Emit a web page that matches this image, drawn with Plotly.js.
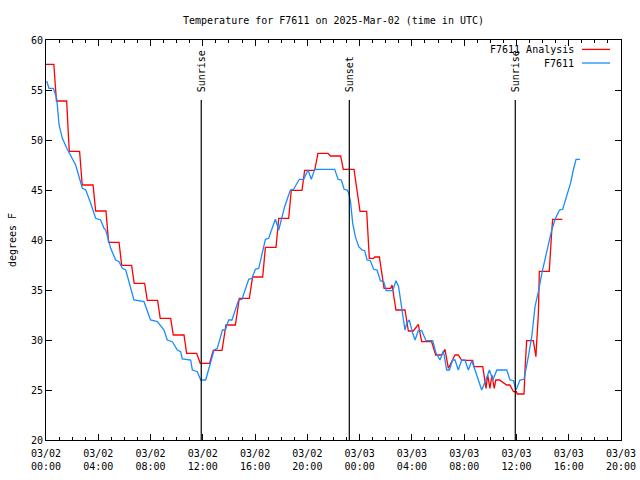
<!DOCTYPE html>
<html>
<head>
<meta charset="utf-8">
<script src="https://cdn.plot.ly/plotly-3.0.1.min.js"></script>
<style>html,body{margin:0;padding:0;background:#fff;}#chart{width:640px;height:480px;}</style>
</head>
<body>
<div id="chart"></div>
<script>
// Hours since 2025-03-02 00:00 UTC
const analysisHours = [0.0,0.6,0.8,1.58,1.78,2.57,2.77,3.6,3.8,4.59,4.79,5.59,5.79,6.55,6.75,7.55,7.75,8.54,8.74,9.54,9.74,10.56,10.76,11.53,11.8,12.52,12.8,13.47,13.77,14.49,14.79,15.56,15.81,16.58,16.79,17.6,17.81,18.57,18.77,19.59,19.79,20.56,20.81,21.58,21.76,22.55,22.75,23.57,24.03,24.54,24.74,25.07,25.15,25.51,25.87,26.38,26.48,26.78,27.47,27.73,28.11,28.49,28.75,29.51,29.82,30.28,30.53,30.79,31.04,31.3,31.55,31.81,32.65,32.75,33.42,33.67,33.8,33.97,34.12,34.3,34.42,34.7,35.25,35.5,35.77,36.0,36.06,36.58,36.66,36.78,37.29,37.49,37.55,37.68,37.75,38.51,38.69,38.77,39.51];
const analysisTemps = [57.57,57.57,53.9,53.9,48.87,48.87,45.5,45.5,42.9,42.9,39.77,39.77,37.47,37.47,35.67,35.67,33.97,33.97,32.17,32.17,30.5,30.5,28.67,28.67,27.67,27.67,28.97,28.97,31.5,31.5,34.17,34.17,36.3,36.3,39.27,39.27,42.17,42.17,44.97,44.97,46.97,46.97,48.67,48.67,48.4,48.4,47.07,47.07,42.87,42.87,38.17,38.17,38.3,38.3,35.17,35.17,35.5,33.0,33.0,30.9,30.9,31.57,29.83,29.83,28.5,28.5,29.07,27.17,27.83,28.5,28.5,27.97,27.97,27.33,27.33,25.17,26.5,25.17,26.5,25.17,26.0,26.0,25.5,25.5,24.83,24.83,24.6,24.6,27.17,29.93,29.93,28.33,29.83,32.67,36.87,36.87,40.67,42.07,42.07];

const obsHours = [0.05,0.23,0.56,0.82,1.0,1.25,1.63,2.27,2.78,3.04,3.42,3.8,4.18,4.44,4.57,4.95,5.33,5.59,5.84,6.1,6.73,7.5,8.0,8.52,9.03,9.28,9.67,10.05,10.3,10.43,11.07,11.2,11.58,11.84,12.22,12.6,12.86,13.11,13.5,13.72,13.98,14.23,14.74,15.0,15.51,15.76,16.02,16.28,16.79,17.04,17.55,17.81,18.26,18.7,18.95,19.38,19.72,20.05,20.3,20.56,22.09,22.35,22.6,22.81,23.04,23.17,23.3,23.47,23.67,23.93,24.18,24.39,24.57,24.82,25.07,25.33,25.59,25.84,26.04,26.53,26.78,26.98,27.22,27.47,27.6,27.8,28.06,28.24,28.49,28.75,29.08,29.59,29.85,30.15,30.41,30.66,30.87,31.12,31.3,31.55,31.81,32.06,32.32,32.58,32.83,33.34,33.68,33.93,34.19,34.5,35.26,35.51,35.77,35.97,36.27,36.58,36.91,37.17,37.42,37.68,37.94,38.19,38.44,38.7,38.96,39.29,39.54,39.85,40.15,40.35,40.56,40.87];
const obsTemps = [55.9,55.17,55.17,54.17,51.5,50.17,49.07,47.5,45.17,45.0,43.67,42.17,42.0,41.17,41.0,39.17,38.0,37.83,37.17,37.0,34.0,33.83,32.0,31.83,31.0,30.0,29.83,29.0,28.83,28.1,28.0,27.0,26.83,26.0,26.0,27.83,29.0,29.17,31.0,31.0,32.0,32.0,34.0,34.07,36.07,36.17,37.07,37.17,40.07,40.17,42.07,41.0,43.33,45.0,45.07,46.07,46.07,47.0,46.07,47.07,47.07,46.07,46.0,45.07,45.0,44.67,43.83,41.67,40.33,39.33,39.0,38.93,38.0,37.93,37.07,37.0,35.93,35.83,34.93,34.93,35.93,35.33,33.0,31.0,31.67,32.0,30.67,30.0,30.93,30.93,29.93,29.93,28.67,28.0,28.93,27.0,27.0,28.0,28.0,27.0,28.0,28.0,27.0,27.93,27.0,25.0,26.07,27.0,26.0,27.0,27.0,26.0,25.93,25.0,26.0,26.07,28.33,30.33,33.33,34.83,36.67,38.0,39.33,41.0,42.07,43.0,43.07,44.33,45.73,47.0,48.07,48.07];

const sunHours = [11.88, 23.21, 35.91];
const sunLabels = ["Sunrise", "Sunset", "Sunrise"];
const seriesNames = ["F7611 Analysis", "F7611"];
const seriesColors = ["#ff0000", "#1a8cff"];

const startMs = Date.UTC(2025, 2, 2, 0, 0, 0);
function pad(n){ return String(n).padStart(2, "0"); }
function toDate(h){
  const d = new Date(startMs + Math.round(h * 3600000));
  return d.getUTCFullYear() + "-" + pad(d.getUTCMonth()+1) + "-" + pad(d.getUTCDate()) + " " +
         pad(d.getUTCHours()) + ":" + pad(d.getUTCMinutes()) + ":" + pad(d.getUTCSeconds());
}

const FONT = "DejaVu Sans Mono, Liberation Mono, monospace";

const traces = [
  {x: analysisHours.map(toDate), y: analysisTemps, mode: "lines", name: seriesNames[0],
   line: {color: seriesColors[0], width: 1.3}, showlegend: false},
  {x: obsHours.map(toDate), y: obsTemps, mode: "lines", name: seriesNames[1],
   line: {color: seriesColors[1], width: 1.3}, showlegend: false}
];

const shapes = sunHours.map(h => ({
  type: "line", xref: "x", yref: "y", x0: toDate(h), x1: toDate(h), y0: 20, y1: 54,
  line: {color: "#000", width: 1.2}
}));
const annotations = sunHours.map((h, i) => ({
  xref: "x", yref: "y", x: toDate(h), y: 54.6, text: sunLabels[i], textangle: -90,
  showarrow: false, xanchor: "center", yanchor: "bottom",
  font: {family: FONT, size: 10, color: "#000"}
}));

// manual legend (text left of sample line, as in reference)
const legY = [0.9765, 0.9425];
seriesNames.forEach((n, i) => {
  annotations.push({xref: "paper", yref: "paper", x: 0.921, y: legY[i], text: n,
    showarrow: false, xanchor: "right", yanchor: "middle",
    font: {family: FONT, size: 10, color: "#000"}});
  shapes.push({type: "line", xref: "paper", yref: "paper", x0: 0.9322, x1: 0.9809,
    y0: legY[i], y1: legY[i], line: {color: seriesColors[i], width: 1.3}});
});

const layout = {
  width: 640, height: 480,
  margin: {l: 46, r: 19, t: 40, b: 40, pad: 0},
  paper_bgcolor: "#fff", plot_bgcolor: "#fff",
  font: {family: FONT, size: 10, color: "#000"},
  title: {text: "Temperature for F7611 on 2025-Mar-02 (time in UTC)",
          x: 0.5, xref: "paper", y: 1 - 20/480, yref: "container", yanchor: "middle",
          font: {family: FONT, size: 10, color: "#000"}},
  xaxis: {
    type: "date", range: [toDate(0), toDate(44)],
    dtick: 4*3600000, tick0: toDate(0), tickformat: "%m/%d<br>%H:%M",
    ticks: "inside", ticklen: 6, tickcolor: "#000", tickwidth: 1,
    ticklabelstandoff: 4,
    minor: {dtick: 3600000, ticks: "inside", ticklen: 3, tickcolor: "#000", showgrid: false},
    showline: true, linecolor: "#000", linewidth: 1, mirror: "ticks",
    showgrid: false, zeroline: false, fixedrange: true,
    tickfont: {family: FONT, size: 10, color: "#000"}
  },
  yaxis: {
    range: [20, 60], dtick: 5, tick0: 20,
    ticks: "inside", ticklen: 6, tickcolor: "#000", tickwidth: 1,
    showline: true, linecolor: "#000", linewidth: 1, mirror: "ticks",
    showgrid: false, zeroline: false, fixedrange: true,
    tickfont: {family: FONT, size: 10, color: "#000"},
    title: {text: "degrees F", standoff: 12, font: {family: FONT, size: 10, color: "#000"}}
  },
  shapes: shapes,
  annotations: annotations,
  showlegend: false
};

Plotly.newPlot("chart", traces, layout, {staticPlot: true, displayModeBar: false});
</script>
</body>
</html>
